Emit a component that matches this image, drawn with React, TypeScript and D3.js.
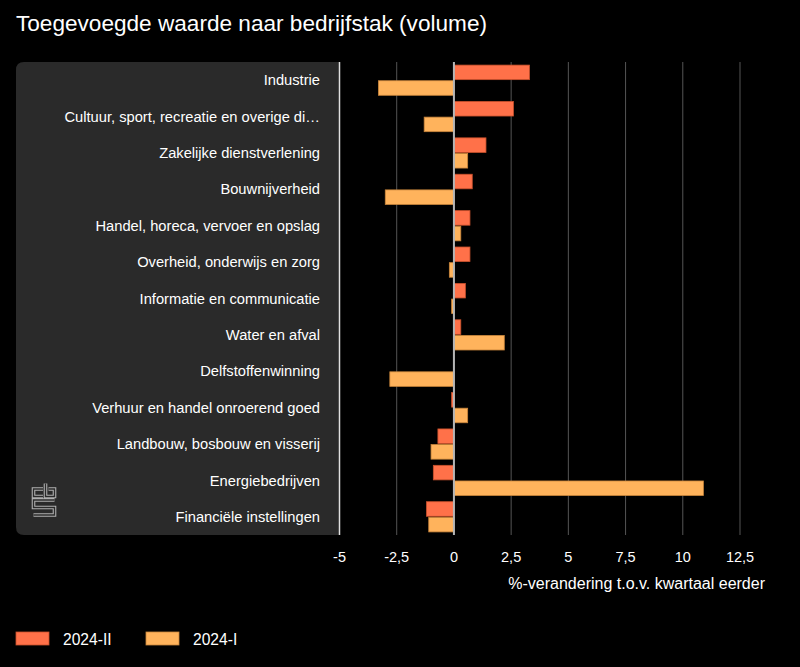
import React from 'react';
import * as d3 from 'd3';

const categories = [
  'Industrie',
  'Cultuur, sport, recreatie en overige di…',
  'Zakelijke dienstverlening',
  'Bouwnijverheid',
  'Handel, horeca, vervoer en opslag',
  'Overheid, onderwijs en zorg',
  'Informatie en communicatie',
  'Water en afval',
  'Delfstoffenwinning',
  'Verhuur en handel onroerend goed',
  'Landbouw, bosbouw en visserij',
  'Energiebedrijven',
  'Financiële instellingen',
];
const q2 = [3.3, 2.6, 1.4, 0.8, 0.7, 0.7, 0.5, 0.3, 0, -0.1, -0.7, -0.9, -1.2];
const q1 = [-3.3, -1.3, 0.6, -3.0, 0.3, -0.2, -0.1, 2.2, -2.8, 0.6, -1.0, 10.9, -1.1];
const seriesNames = ['2024-II', '2024-I'];
const seriesValues = [q2, q1];
const ticks = [-5, -2.5, 0, 2.5, 5, 7.5, 10, 12.5];

const W = 800;
const H = 667;
const font = '"Liberation Sans", Arial, sans-serif';
const fills = ['#ff7149', '#ffb35c'];
const strokes = ['#c9512c', '#c9853b'];

const x = d3.scaleLinear().domain([-5, 12.5]).range([339.5, 740]);
const y = d3.scaleBand<string>().domain(categories).range([62, 535]).paddingInner(0.17).paddingOuter(0.085);
const ys = d3.scaleBand<string>().domain(seriesNames).range([0, y.bandwidth()]).paddingInner(0.07);
const fmt = (d: number) => String(d).replace('.', ',');

// cbs logo: c, b and S drawn as outlined strokes
const logoPath =
  'M11,6 H1.5 V13.5 H11 ' +
  'M13.5,0.5 V13.5 H22.5 V6 H16.5 ' +
  'M22.5,17 H1.5 V24.5 H22.5 V32 H1.5';

export default function App() {
  React.useEffect(() => {
    document.body.style.margin = '0';
    document.body.style.background = '#000';
  }, []);

  const x0 = x(0);

  return (
    <svg width={W} height={H} style={{ display: 'block', background: '#000' }} fontFamily={font}>
      <rect width={W} height={H} fill="#000" />
      <text x={16} y={31} fill="#fff" fontSize={22.6}>
        Toegevoegde waarde naar bedrijfstak (volume)
      </text>

      {/* label panel */}
      <path
        d={`M24,62 H${x(-5)} V535 H24 Q16,535 16,527 V70 Q16,62 24,62 Z`}
        fill="#2a2a2a"
      />

      {/* gridlines */}
      {ticks.map(t => (
        <line
          key={t}
          x1={x(t)}
          x2={x(t)}
          y1={62}
          y2={535}
          stroke={t === -5 ? '#e0e0e0' : '#555'}
          strokeWidth={t === -5 ? 1.5 : 1}
        />
      ))}

      {/* bars */}
      {categories.map((c, i) => (
        <g key={c} transform={`translate(0,${y(c)})`}>
          {seriesNames.map((s, k) => {
            const v = seriesValues[k][i];
            if (v === 0) return null;
            const xa = x(Math.min(0, v));
            const xb = x(Math.max(0, v));
            return (
              <rect
                key={s}
                x={xa}
                y={ys(s)}
                width={xb - xa}
                height={ys.bandwidth()}
                fill={fills[k]}
                stroke={strokes[k]}
                strokeWidth={0.8}
              />
            );
          })}
        </g>
      ))}

      {/* zero line */}
      <line x1={x0} x2={x0} y1={62} y2={535} stroke="#b5b5b5" strokeWidth={2} />

      {/* category labels */}
      {categories.map(c => (
        <text
          key={c}
          x={320}
          y={(y(c) ?? 0) + y.bandwidth() / 2}
          dy="0.35em"
          textAnchor="end"
          fill="#fff"
          fontSize={14.7}
        >
          {c}
        </text>
      ))}

      {/* tick labels */}
      {ticks.map(t => (
        <text key={t} x={x(t)} y={562} textAnchor="middle" fill="#fff" fontSize={14.5}>
          {fmt(t)}
        </text>
      ))}
      <text x={765} y={589} textAnchor="end" fill="#fff" fontSize={16}>
        %-verandering t.o.v. kwartaal eerder
      </text>

      {/* logo */}
      <g transform="translate(32,483)" fill="none">
        <path d={logoPath} stroke="#b0b0b0" strokeWidth={3.6} />
        <path d={logoPath} stroke="#2a2a2a" strokeWidth={1.4} />
      </g>

      {/* legend */}
      {seriesNames.map((s, k) => (
        <g key={s} transform={`translate(${16 + k * 130},632)`}>
          <rect width={33} height={13} fill={fills[k]} stroke={strokes[k]} strokeWidth={0.8} />
          <text x={47} y={12.5} fill="#fff" fontSize={15.6}>
            {s}
          </text>
        </g>
      ))}
    </svg>
  );
}
